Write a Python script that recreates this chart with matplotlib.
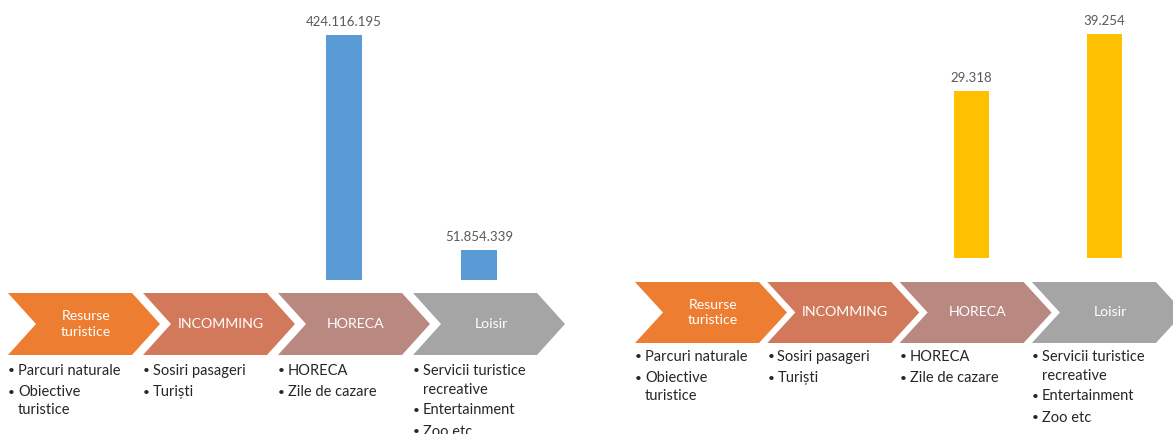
import matplotlib
matplotlib.use("Agg")
import matplotlib.pyplot as plt
from matplotlib.patches import Polygon

plt.rcParams['font.family'] = ['Lato', 'DejaVu Sans']

# ---- data ----
stages = ["Resurse\nturistice", "INCOMMING", "HORECA", "Loisir"]
stage_colors = ["#ED7D31", "#D2795B", "#B98981", "#A5A5A5"]
stage_items = [
    ["Parcuri naturale", "Obiective\nturistice"],
    ["Sosiri pasageri", "Turiști"],
    ["HORECA", "Zile de cazare"],
    ["Servicii turistice\nrecreative", "Entertainment", "Zoo etc"],
]
bar_stage_idx = [2, 3]
left_values = [424116195, 51854339]
right_values = [29318, 39254]
left_color = "#5B9BD5"
right_color = "#FFC000"

W, H = 1173, 434
fig = plt.figure(figsize=(W / 100, H / 100), dpi=100)
bg = fig.add_axes([0, 0, 1, 1])
bg.set_xlim(0, W)
bg.set_ylim(H, 0)
bg.axis("off")


def fmt(v):
    return f"{v:,}".replace(",", ".")


def draw_flow(x_start, step, top, bottom, text_y0):
    mid = (top + bottom) / 2
    for i, (name, col, items) in enumerate(zip(stages, stage_colors, stage_items)):
        x0 = x_start + step * i
        pts = [(x0, top), (x0 + 124, top), (x0 + 152, mid),
               (x0 + 124, bottom), (x0, bottom), (x0 + 28, mid)]
        bg.add_patch(Polygon(pts, closed=True, facecolor=col, edgecolor="none"))
        bg.text(x0 + 78, mid, name, color="white", ha="center", va="center",
                fontsize=10.2, linespacing=1.3)
        y = text_y0
        for it in items:
            lines = it.split("\n")
            bg.text(x0, y, "•", ha="left", va="center", fontsize=8.5,
                    color="#262626")
            for ln in lines:
                bg.text(x0 + 10, y, ln, ha="left", va="center", fontsize=10.5,
                        color="#262626")
                y += 18.5
            y += 2.5


draw_flow(8, 135, 293, 355, 371)
draw_flow(635, 132.3, 282, 343, 357)


def bar_axes(center0, step, base_y, top_y, val_top, values, color, width_px):
    # category positions 0..3 ; center of category 2 at center0
    x_left = center0 - 2.5 * step
    ax = fig.add_axes([x_left / W, (H - base_y) / H, 4 * step / W, base_y / H])
    ax.set_xlim(-0.5, 3.5)
    ax.set_ylim(0, values[val_top] * base_y / (base_y - top_y))
    bars = ax.bar(bar_stage_idx, values, width=width_px / step, color=color)
    for b, v in zip(bars, values):
        ax.annotate(fmt(v), (b.get_x() + b.get_width() / 2, b.get_height()),
                    xytext=(0, 5), textcoords="offset points", ha="center",
                    va="bottom", fontsize=9.5, color="#595959")
    ax.axis("off")
    ax.patch.set_alpha(0)
    return ax


bar_axes(344, 135, 280, 35, 0, left_values, left_color, 36)
bar_axes(971.5, 132.5, 258, 34, 1, right_values, right_color, 35)

fig.savefig("out.png", dpi=100)
